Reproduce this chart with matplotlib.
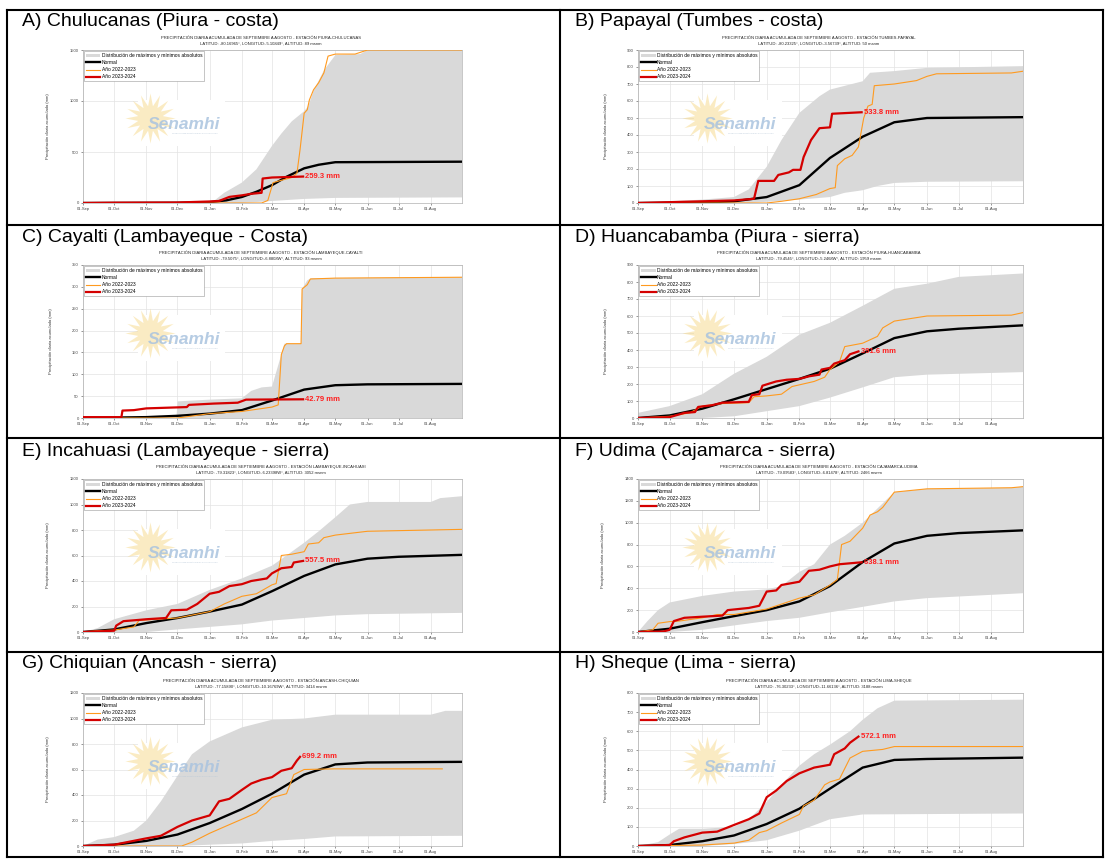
import numpy as np
import pandas as pd
import matplotlib
matplotlib.use("Agg")
import matplotlib.pyplot as plt
import matplotlib.dates as mdates
from matplotlib.lines import Line2D
from matplotlib.patches import Patch, Rectangle

plt.rcParams['font.family'] = ['Liberation Sans', 'DejaVu Sans']

# (fecha MM-DD, valor mm); Sep-Dic = 2023, Ene-Ago = 2024
a_hi = [("09-01", 0), ("12-20", 0), ("01-05", 20), ("01-15", 100), ("02-01", 200), ("02-15", 330), ("03-01", 560),
        ("03-10", 680), ("03-20", 800), ("04-01", 900), ("04-05", 950), ("04-10", 1100), ("04-20", 1300),
        ("05-01", 1450), ("05-25", 1460), ("06-01", 1500), ("08-31", 1500)]
a_lo = [("09-01", 0), ("02-01", 0), ("03-01", 20), ("04-01", 40), ("05-01", 50), ("08-31", 55)]
a_normal = [("09-01", 0), ("12-01", 2), ("01-01", 8), ("01-17", 26), ("02-01", 59), ("02-15", 110), ("03-01", 175),
            ("03-15", 257), ("04-01", 340), ("04-15", 375), ("05-01", 400), ("08-31", 405)]
a_2022 = [("09-01", 0), ("02-20", 0), ("02-26", 25), ("03-02", 200), ("03-20", 250), ("03-25", 290), ("03-28", 520),
          ("04-01", 880), ("04-04", 915), ("04-06", 1010), ("04-10", 1110), ("04-15", 1180), ("04-20", 1276),
          ("04-24", 1440), ("05-01", 1460), ("05-20", 1460), ("06-01", 1500), ("08-31", 1500)]
a_2023 = [("09-01", 0), ("10-01", 3), ("12-01", 5), ("01-01", 15), ("01-10", 20), ("01-15", 40), ("01-20", 60),
          ("02-01", 75), ("02-10", 90), ("02-20", 100), ("02-21", 240), ("03-01", 250), ("03-31", 259.3)]

b_hi = [("09-01", 0), ("10-01", 10), ("11-01", 20), ("12-01", 35), ("12-15", 80), ("01-01", 213), ("01-15", 370),
        ("02-01", 530), ("02-20", 628), ("03-01", 667), ("04-01", 716), ("04-08", 766), ("05-01", 776),
        ("06-01", 795), ("08-31", 805)]
b_lo = [("09-01", 0), ("12-15", 0), ("02-01", 20), ("03-01", 35), ("03-15", 60), ("04-01", 75), ("04-15", 100),
        ("05-01", 118), ("06-01", 125), ("08-31", 128)]
b_normal = [("09-01", 0), ("11-01", 3), ("12-01", 10), ("01-01", 35), ("02-01", 105), ("03-01", 265), ("04-01", 390),
            ("05-01", 475), ("06-01", 500), ("08-31", 505)]
b_2022 = [("09-01", 0), ("01-01", 0), ("01-15", 10), ("02-01", 25), ("02-17", 50), ("03-01", 85), ("03-06", 90),
          ("03-08", 220), ("03-15", 260), ("03-22", 280), ("03-28", 330), ("04-02", 500), ("04-06", 570),
          ("04-10", 580), ("04-12", 690), ("05-01", 700), ("05-22", 720), ("06-01", 745), ("06-10", 760),
          ("08-20", 765), ("08-31", 775)]
b_2023 = [("09-01", 0), ("11-01", 10), ("12-01", 15), ("12-20", 25), ("12-24", 130), ("01-08", 130), ("01-12", 165),
          ("01-22", 180), ("01-26", 195), ("02-02", 195), ("02-05", 270), ("02-12", 370), ("02-20", 440),
          ("03-01", 445), ("03-03", 525), ("03-31", 533.8)]

c_hi = [("09-01", 0), ("11-30", 0), ("12-01", 38), ("01-01", 42), ("02-01", 45), ("02-10", 62), ("02-20", 70),
        ("03-01", 72), ("03-10", 145), ("03-13", 170), ("03-29", 170), ("03-30", 295), ("04-04", 315),
        ("04-08", 320), ("08-31", 322)]
c_lo = [("09-01", 0), ("08-31", 0)]
c_normal = [("09-01", 0), ("11-01", 2), ("12-01", 5), ("01-01", 10), ("02-01", 18), ("03-01", 40), ("04-01", 65),
            ("05-01", 75), ("06-01", 77), ("08-31", 78)]
c_2022 = [("09-01", 0), ("12-01", 0), ("01-01", 10), ("02-01", 15), ("03-01", 25), ("03-07", 30), ("03-10", 145),
          ("03-13", 165), ("03-15", 170), ("03-29", 170), ("03-30", 295), ("04-04", 305), ("04-07", 318),
          ("05-01", 320), ("08-31", 322)]
c_2023 = [("09-01", 2), ("10-08", 2), ("10-09", 17), ("10-20", 18), ("11-01", 22), ("12-10", 25), ("12-12", 30),
          ("01-05", 33), ("01-28", 35), ("02-05", 42), ("03-31", 42.79)]

d_hi = [("09-01", 30), ("10-01", 70), ("11-01", 140), ("12-01", 260), ("01-01", 360), ("02-01", 490), ("03-01", 560),
        ("04-01", 660), ("05-01", 760), ("06-01", 790), ("07-01", 830), ("08-31", 850)]
d_lo = [("09-01", 0), ("11-01", 0), ("12-01", 10), ("01-01", 40), ("02-01", 70), ("03-01", 120), ("04-01", 180),
        ("05-01", 240), ("06-01", 255), ("08-31", 270)]
d_normal = [("09-01", 0), ("10-01", 15), ("11-01", 55), ("12-01", 110), ("01-01", 170), ("02-01", 230),
            ("03-01", 290), ("04-01", 380), ("05-01", 470), ("06-01", 510), ("07-01", 525), ("08-31", 545)]
d_2022 = [("09-01", 0), ("10-01", 10), ("10-20", 30), ("11-01", 70), ("11-20", 85), ("12-15", 90), ("12-20", 125),
          ("01-01", 130), ("01-15", 140), ("01-25", 185), ("02-01", 195), ("02-15", 215), ("02-25", 240),
          ("03-01", 285), ("03-10", 330), ("03-15", 420), ("04-01", 440), ("04-15", 480), ("04-20", 530),
          ("05-01", 570), ("06-01", 600), ("08-20", 605), ("08-31", 620)]
d_2023 = [("09-01", 0), ("10-01", 5), ("10-15", 30), ("10-25", 35), ("10-28", 65), ("11-10", 75), ("11-20", 90),
          ("12-15", 95), ("12-18", 135), ("12-25", 140), ("12-28", 190), ("01-10", 215), ("01-20", 225),
          ("02-01", 230), ("02-10", 245), ("02-20", 255), ("02-22", 285), ("03-01", 295), ("03-05", 320),
          ("03-15", 340), ("03-20", 375), ("03-28", 391.6)]

e_hi = [("09-01", 0), ("09-15", 30), ("10-01", 100), ("11-01", 170), ("12-01", 220), ("01-01", 330), ("02-01", 420),
        ("03-01", 520), ("03-15", 600), ("04-01", 700), ("04-15", 790), ("05-01", 900), ("05-15", 1000),
        ("06-01", 1020), ("08-01", 1020), ("08-10", 1050), ("08-31", 1065)]
e_lo = [("09-01", 0), ("11-01", 0), ("12-01", 20), ("01-01", 40), ("02-01", 60), ("03-01", 90), ("04-01", 110),
        ("05-01", 130), ("06-01", 140), ("08-31", 150)]
e_normal = [("09-01", 0), ("10-01", 20), ("11-01", 70), ("12-01", 110), ("01-01", 160), ("02-01", 215),
            ("03-01", 320), ("04-01", 440), ("05-01", 530), ("06-01", 575), ("07-01", 590), ("08-31", 605)]
e_2022 = [("09-01", 0), ("09-15", 10), ("10-01", 15), ("10-20", 40), ("10-25", 90), ("11-01", 95), ("12-01", 110),
          ("01-01", 160), ("01-15", 220), ("02-01", 280), ("02-15", 300), ("03-01", 370), ("03-05", 380),
          ("03-10", 600), ("03-20", 610), ("04-01", 630), ("04-05", 690), ("04-15", 700), ("04-20", 740),
          ("05-01", 760), ("06-01", 790), ("08-31", 805)]
e_2023 = [("09-01", 0), ("10-01", 10), ("10-03", 50), ("10-10", 85), ("10-25", 95), ("11-01", 100), ("11-20", 110),
          ("11-25", 170), ("12-10", 175), ("12-20", 220), ("01-01", 300), ("01-10", 315), ("01-20", 360),
          ("02-01", 375), ("02-10", 400), ("02-25", 420), ("03-01", 460), ("03-10", 500), ("03-20", 510),
          ("03-22", 545), ("03-31", 557.5)]

f_hi = [("09-01", 0), ("09-10", 100), ("09-20", 200), ("10-01", 270), ("11-01", 330), ("12-01", 370), ("01-01", 390),
        ("01-15", 420), ("02-01", 550), ("02-15", 620), ("03-01", 800), ("03-15", 880), ("04-01", 1000),
        ("04-15", 1130), ("05-01", 1280), ("06-01", 1310), ("08-20", 1320), ("08-31", 1330)]
f_lo = [("09-01", 0), ("10-01", 0), ("11-01", 20), ("12-01", 60), ("01-01", 100), ("02-01", 130), ("03-01", 180),
        ("04-01", 230), ("05-01", 280), ("06-01", 310), ("08-31", 355)]
f_normal = [("09-01", 0), ("10-01", 30), ("11-01", 90), ("12-01", 145), ("01-01", 200), ("02-01", 280),
            ("03-01", 420), ("04-01", 640), ("05-01", 810), ("06-01", 880), ("07-01", 905), ("08-31", 930)]
f_2022 = [("09-01", 0), ("09-15", 20), ("09-20", 80), ("10-01", 95), ("10-10", 100), ("11-01", 130), ("11-15", 160),
          ("12-01", 160), ("01-01", 210), ("02-01", 310), ("02-15", 340), ("03-01", 430), ("03-08", 480),
          ("03-12", 800), ("03-20", 830), ("04-01", 950), ("04-08", 1070), ("04-15", 1100), ("04-20", 1140),
          ("05-01", 1280), ("06-01", 1310), ("08-20", 1320), ("08-31", 1330)]
f_2023 = [("09-01", 0), ("09-25", 5), ("10-01", 20), ("10-05", 100), ("10-15", 130), ("11-01", 140), ("11-20", 150),
          ("11-25", 200), ("12-15", 220), ("12-25", 240), ("01-01", 370), ("01-10", 380), ("01-15", 430),
          ("02-01", 460), ("02-10", 560), ("02-20", 570), ("03-01", 600), ("03-10", 620), ("03-31", 638.1)]

g_hi = [("09-01", 0), ("09-15", 50), ("10-01", 70), ("10-20", 120), ("11-01", 200), ("11-15", 350), ("12-01", 550),
        ("12-15", 720), ("01-01", 820), ("02-01", 930), ("03-01", 990), ("04-01", 1000), ("05-01", 1030),
        ("08-01", 1030), ("08-15", 1060), ("08-31", 1060)]
g_lo = [("09-01", 0), ("12-01", 0), ("01-01", 10), ("02-01", 20), ("03-01", 40), ("04-01", 55), ("05-01", 75),
        ("08-31", 80)]
g_normal = [("09-01", 0), ("10-01", 10), ("11-01", 40), ("12-01", 90), ("01-01", 180), ("02-01", 290),
            ("03-01", 410), ("04-01", 560), ("05-01", 640), ("06-01", 655), ("08-31", 660)]
g_2022 = [("09-01", 0), ("12-05", 0), ("12-15", 30), ("01-01", 100), ("01-15", 150), ("02-01", 210), ("02-15", 260),
          ("03-01", 380), ("03-15", 410), ("03-22", 560), ("04-01", 600), ("04-30", 605), ("08-12", 605)]
g_2023 = [("09-01", 0), ("10-01", 10), ("11-01", 60), ("11-15", 80), ("12-01", 150), ("12-15", 200), ("01-01", 240),
          ("01-10", 350), ("01-20", 370), ("02-01", 440), ("02-10", 490), ("02-20", 520), ("03-01", 540),
          ("03-10", 590), ("03-20", 610), ("03-25", 670), ("03-28", 699.2)]

h_hi = [("09-01", 0), ("09-20", 20), ("10-01", 60), ("10-10", 90), ("11-01", 90), ("12-01", 100), ("12-15", 140),
        ("01-01", 230), ("01-15", 320), ("02-01", 420), ("02-15", 480), ("03-01", 530), ("03-20", 600),
        ("04-01", 660), ("04-15", 720), ("05-01", 760), ("08-31", 765)]
h_lo = [("09-01", 0), ("11-01", 0), ("12-01", 10), ("01-01", 30), ("02-01", 80), ("03-01", 140), ("04-01", 165),
        ("08-31", 170)]
h_normal = [("09-01", 0), ("10-01", 5), ("11-01", 25), ("12-01", 55), ("01-01", 115), ("02-01", 195),
            ("03-01", 300), ("04-01", 410), ("05-01", 450), ("06-01", 455), ("08-31", 462)]
h_2022 = [("09-01", 0), ("11-01", 5), ("12-01", 15), ("12-15", 30), ("12-25", 70), ("01-01", 80), ("01-15", 120),
          ("02-01", 165), ("02-05", 210), ("02-15", 240), ("02-25", 320), ("03-01", 335), ("03-10", 350),
          ("03-20", 460), ("04-01", 495), ("04-20", 505), ("05-01", 520), ("08-31", 520)]
h_2023 = [("09-01", 0), ("10-01", 5), ("10-05", 25), ("10-15", 45), ("11-01", 70), ("11-15", 75), ("12-01", 110),
          ("12-15", 140), ("12-25", 170), ("01-01", 255), ("01-10", 290), ("01-20", 340), ("02-01", 380),
          ("02-15", 410), ("03-01", 425), ("03-05", 480), ("03-15", 510), ("03-20", 540), ("03-28", 572.1)]

panel_labels = ["A) Chulucanas (Piura - costa)", "B) Papayal (Tumbes - costa)", "C) Cayalti (Lambayeque - Costa)",
                "D) Huancabamba (Piura - sierra)", "E) Incahuasi (Lambayeque - sierra)", "F) Udima (Cajamarca - sierra)",
                "G) Chiquian (Ancash - sierra)", "H) Sheque (Lima - sierra)"]
stations = ["PIURA-CHULUCANAS", "TUMBES-PAPAYAL", "LAMBAYEQUE-CAYALTI", "PIURA-HUANCABAMBA",
            "LAMBAYEQUE-INCAHUASI", "CAJAMARCA-UDIMA", "ANCASH-CHIQUIAN", "LIMA-SHEQUE"]
coords = ["LATITUD: -80.16965°, LONGITUD:-5.10849°, ALTITUD: 89 msnm",
          "LATITUD: -80.23325°, LONGITUD:-3.56739°, ALTITUD: 50 msnm",
          "LATITUD: -79.5075°, LONGITUD:-6.8808W°, ALTITUD: 93 msnm",
          "LATITUD: -79.4545°, LONGITUD:-5.2468W°, ALTITUD: 1959 msnm",
          "LATITUD: -79.31823°, LONGITUD:-6.23398W°, ALTITUD: 3052 msnm",
          "LATITUD: -79.09583°, LONGITUD:-6.81478°, ALTITUD: 2466 msnm",
          "LATITUD: -77.15890°, LONGITUD:-10.16769W°, ALTITUD: 3414 msnm",
          "LATITUD: -76.30233°, LONGITUD:-11.66136°, ALTITUD: 3188 msnm"]
y_max = [1500, 900, 350, 900, 1200, 1400, 1200, 800]
y_step = [500, 100, 50, 100, 200, 200, 200, 100]
final_labels = ["259.3 mm", "533.8 mm", "42.79 mm", "391.6 mm", "557.5 mm", "638.1 mm", "699.2 mm", "572.1 mm"]

series = [(a_hi, a_lo, a_normal, a_2022, a_2023), (b_hi, b_lo, b_normal, b_2022, b_2023),
          (c_hi, c_lo, c_normal, c_2022, c_2023), (d_hi, d_lo, d_normal, d_2022, d_2023),
          (e_hi, e_lo, e_normal, e_2022, e_2023), (f_hi, f_lo, f_normal, f_2022, f_2023),
          (g_hi, g_lo, g_normal, g_2022, g_2023), (h_hi, h_lo, h_normal, h_2022, h_2023)]


def split(pairs):
    d, v = [], []
    for md, val in pairs:
        year = 2023 if int(md[:2]) >= 9 else 2024
        d.append(pd.Timestamp(f"{year}-{md}"))
        v.append(val)
    return np.array(d, dtype="datetime64[ns]"), np.array(v, dtype=float)


W, H = 1105, 859
fig = plt.figure(figsize=(W / 100, H / 100), dpi=100)

# bordes de la tabla
row_lines = [10, 225, 438, 652, 857]
for yy in row_lines:
    fig.add_artist(Line2D([7 / W, 1103 / W], [1 - yy / H, 1 - yy / H], color="black", lw=1.5))
for xx in [7, 560, 1103]:
    fig.add_artist(Line2D([xx / W, xx / W], [1 - 10 / H, 1 - 857 / H], color="black", lw=1.5))

col_x = [(83, 379), (638, 385)]
row_top = [50, 265, 479, 693]
label_y = [21, 237, 451, 664]
ax_h = 153

x0_date = pd.Timestamp("2023-09-01")
x1_date = pd.Timestamp("2024-08-31")

for i in range(8):
    r, c = divmod(i, 2)
    left, width = col_x[c]
    top = row_top[r]
    ax = fig.add_axes([left / W, 1 - (top + ax_h) / H, width / W, ax_h / H])
    hi, lo, normal, y22, y23 = series[i]

    # fondo blanco del logo (tapa la grilla)
    ax.add_patch(Rectangle((0.145, 0.37), 0.23, 0.3, transform=ax.transAxes, facecolor="white",
                           edgecolor="none", zorder=0.8))

    hx, hy = split(hi)
    lx, ly = split(lo)
    ax.fill(np.concatenate([hx, lx[::-1]]), np.concatenate([hy, ly[::-1]]),
            color="#d9d9d9", lw=0, zorder=1)
    nx, ny = split(normal)
    ax.plot(nx, ny, color="black", lw=1.7, zorder=3)
    ox, oy = split(y22)
    ax.plot(ox, oy, color="#ff9a1f", lw=0.8, zorder=4)
    rx, ry = split(y23)
    ax.plot(rx, ry, color="#d40000", lw=1.6, zorder=5)
    ax.text(rx[-1] + np.timedelta64(2, "D"), ry[-1], final_labels[i], color="#ff1f1f",
            fontsize=5.5, fontweight="bold", va="center", ha="left", zorder=6)

    ax.set_xlim(x0_date, x1_date)
    ax.set_ylim(0, y_max[i])
    ax.set_yticks(np.arange(0, y_max[i] + 1, y_step[i]))
    ax.xaxis.set_major_locator(mdates.MonthLocator())
    ax.xaxis.set_major_formatter(mdates.DateFormatter("%d-%b"))
    ax.grid(True, color="#e3e3e3", lw=0.5, zorder=0)
    ax.set_axisbelow(True)
    ax.tick_params(labelsize=3, length=1.5, width=0.4, colors="#444444", pad=1.5)
    for sp in ax.spines.values():
        sp.set_color("#b0b0b0")
        sp.set_linewidth(0.5)
    ax.set_ylabel("Precipitación diaria acumulada (mm)", fontsize=3, labelpad=14, color="#333333")

    # marca de agua Senamhi
    ax.scatter([0.178], [0.555], s=1300, marker=(16, 1, 0), color="#f6d47a", alpha=0.45,
               transform=ax.transAxes, zorder=2, lw=0)
    ax.text(0.172, 0.515, "Senamhi", transform=ax.transAxes, fontsize=12.5, fontweight="bold",
            fontstyle="italic", color="#a9c3df", alpha=0.85, va="center", ha="left", zorder=2)
    ax.text(0.235, 0.455, "Servicio Nacional de Meteorología e Hidrología del Perú", transform=ax.transAxes,
            fontsize=1.4, color="#b8c8d8", va="center", ha="left", zorder=2)

    handles = [Patch(facecolor="#d9d9d9", edgecolor="none"),
               Line2D([], [], color="black", lw=1.7),
               Line2D([], [], color="#ff9a1f", lw=0.8),
               Line2D([], [], color="#d40000", lw=1.6)]
    names = ["Distribución de máximos y mínimos absolutos", "Normal", "Año 2022-2023", "Año 2023-2024"]
    leg = ax.legend(handles, names, loc="upper left", fontsize=3.5, frameon=True, fancybox=False,
                    borderaxespad=0.25, handlelength=3.0, handletextpad=0.3, labelspacing=0.45,
                    borderpad=0.35, framealpha=1)
    leg.get_frame().set_edgecolor("#999999")
    leg.get_frame().set_linewidth(0.4)

    cx = (left + width * 0.47) / W
    fig.text(cx, 1 - (top - 12) / H,
             f"PRECIPITACIÓN DIARIA ACUMULADA DE SEPTIEMBRE A AGOSTO - ESTACIÓN {stations[i]}",
             fontsize=3, ha="center", va="center", color="#222222")
    fig.text(cx, 1 - (top - 6) / H, coords[i], fontsize=3, ha="center", va="center", color="#222222")

    lab_x = 22 if c == 0 else 575
    fig.text(lab_x / W, 1 - label_y[r] / H, panel_labels[i], fontsize=14, ha="left", va="center")

fig.savefig("out.png", dpi=100)
